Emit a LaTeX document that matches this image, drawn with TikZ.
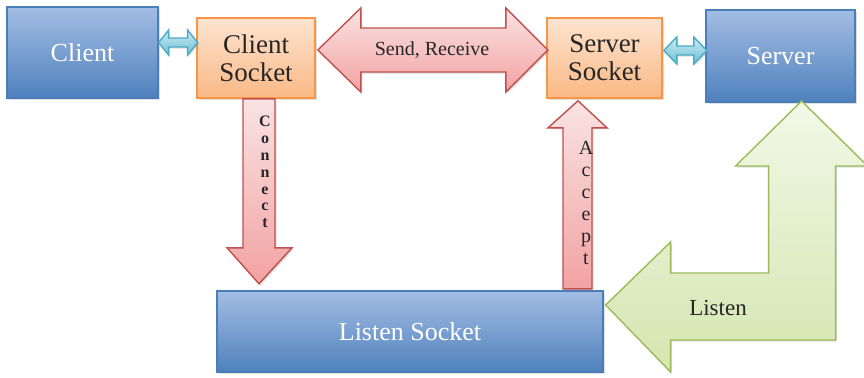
\documentclass[tikz,border=0pt]{standalone}
\usepackage{fontspec}
\setmainfont{Liberation Serif}
\usetikzlibrary{shadows, calc}

\definecolor{blueline}{HTML}{4A7EBB}
\definecolor{bluetop}{HTML}{A3BDE3}
\definecolor{bluebot}{HTML}{4F81BD}
\definecolor{orangeline}{HTML}{F79646}
\definecolor{orangetop}{HTML}{FDE4D0}
\definecolor{orangebot}{HTML}{FAB885}
\definecolor{pinkline}{HTML}{C0504D}
\definecolor{pinktop}{HTML}{FAE3E3}
\definecolor{pinkbot}{HTML}{F2A2A2}
\definecolor{cyanline}{HTML}{4BACC6}
\definecolor{cyantop}{HTML}{CDEAF2}
\definecolor{cyanbot}{HTML}{6CC0D7}
\definecolor{greenline}{HTML}{9BBB59}
\definecolor{greentop}{HTML}{F2F8E7}
\definecolor{greenbot}{HTML}{D4E6B0}

\tikzset{
  softshadow/.style={drop shadow={opacity=0.25, shadow xshift=0.8pt, shadow yshift=-0.8pt}},
  bluebox/.style={draw=blueline, line width=0.6pt, top color=bluetop, bottom color=bluebot,
    text=white, inner sep=0pt, softshadow, font=\rmfamily\fontsize{13}{14}\selectfont},
  orangebox/.style={draw=orangeline, line width=0.8pt, top color=orangetop, bottom color=orangebot,
    text=black!85, inner sep=0pt, align=center, softshadow, font=\rmfamily\fontsize{13.5}{14}\selectfont},
  pinkarrow/.style={draw=pinkline, line width=0.7pt, top color=pinktop, bottom color=pinkbot, softshadow},
  cyanarrow/.style={draw=cyanline, line width=0.7pt, top color=cyantop, bottom color=cyanbot, softshadow},
  greenarrow/.style={draw=greenline, line width=0.7pt, top color=greentop, bottom color=greenbot, softshadow},
  vlabel/.style={align=center, inner sep=0pt, text=black!85}
}

\begin{document}
\begin{tikzpicture}[x=0.5pt, y=-0.5pt]
  \useasboundingbox (0,0) rectangle (864,377);

  % boxes
  \node[bluebox, minimum width=75.5pt, minimum height=45.5pt] (client) at (82.5,52.5) {Client};
  \node[orangebox, minimum width=59pt, minimum height=40pt] (csock) at (256,58) {Client\\Socket};
  \node[orangebox, minimum width=57.5pt, minimum height=40pt] (ssock) at (604.5,58) {Server\\Socket};
  \node[bluebox, minimum width=74.5pt, minimum height=46pt] (server) at (780.5,56) {Server};
  \node[bluebox, minimum width=193pt, minimum height=40.5pt] (listen) at (410,331.5) {Listen Socket};

  % small links
  \draw[cyanarrow] ($(client.east)+(0,-10)$) -- ++(10,-12.5) -- ++(0,8) -- ++(19,0) -- ++(0,-8)
    -- ++(10,12.5) -- ++(-10,12.5) -- ++(0,-8) -- ++(-19,0) -- ++(0,8) -- cycle;
  \draw[cyanarrow] ($(ssock.east)+(1,-7.5)$) -- ++(13,-13.5) -- ++(0,9) -- ++(17,0) -- ++(0,-9)
    -- ++(13,13.5) -- ++(-13,13.5) -- ++(0,-9) -- ++(-17,0) -- ++(0,9) -- cycle;

  % send / receive
  \draw[pinkarrow] ($(csock.east)+(2,-8)$) -- ++(43,-42) -- ++(0,20) -- ++(145,0) -- ++(0,-20)
    -- ++(42,42) -- ++(-42,42) -- ++(0,-20) -- ++(-145,0) -- ++(0,20) -- cycle;
  \node[text=black!85, font=\rmfamily\fontsize{10}{11}\selectfont] (sr) at (432,50) {Send, Receive};

  % connect
  \draw[pinkarrow] ($(csock.south)+(-13,0)$) -- ++(0,149) -- ++(-16,0) -- ++(32,36)
    -- ++(33,-36) -- ++(-17,0) -- ++(0,-149) -- cycle;
  \node[vlabel, font=\rmfamily\fontsize{8}{8.4}\selectfont\bfseries] (conn) at (265,172) {C\\o\\n\\n\\e\\c\\t};

  % accept
  \draw[pinkarrow] ($(ssock.south)+(-26.5,2)$) -- ++(29,27) -- ++(-15,0) -- ++(0,161)
    -- ++(-29,0) -- ++(0,-161) -- ++(-15,0) -- cycle;
  \node[vlabel, font=\rmfamily\fontsize{10}{11}\selectfont] (acc) at (586,203) {A\\c\\c\\e\\p\\t};

  % listen
  \draw[greenarrow] ($(listen.east)+(2,-26.5)$) -- ++(65,-63) -- ++(0,31) -- ++(98,0) -- ++(0,-107)
    -- ++(-33,0) -- ++(66,-65) -- ++(66,65) -- ++(-32,0) -- ++(0,174) -- ++(-165,0) -- ++(0,32) -- cycle;
  \node[text=black!85, font=\rmfamily\fontsize{11.5}{12}\selectfont] (lst) at (718,308) {Listen};
\end{tikzpicture}
\end{document}
